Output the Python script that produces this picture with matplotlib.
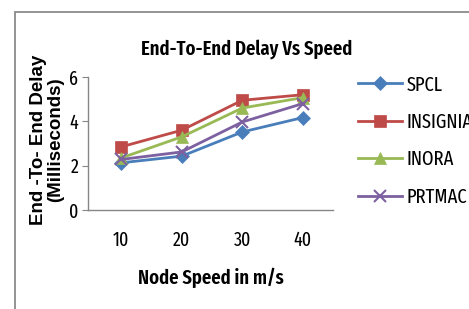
import matplotlib
matplotlib.use("Agg")
import matplotlib.pyplot as plt
from matplotlib.patches import Rectangle

speeds = ["10", "20", "30", "40"]
spcl = [2.13, 2.43, 3.52, 4.17]
insignia = [2.85, 3.6, 4.95, 5.2]
inora = [2.35, 3.3, 4.6, 5.07]
prtmac = [2.28, 2.62, 3.97, 4.8]
series_names = ["SPCL", "INSIGNIA", "INORA", "PRTMAC"]
yticks = [0, 2, 4, 6]

CF = ["Fira Sans Extra Condensed", "Carlito", "DejaVu Sans"]

fig = plt.figure(figsize=(4.69, 3.09), dpi=100)
fig.patch.set_facecolor("white")
ax = fig.add_axes([88/469, 1-210/309, (333-88)/469, (210-77)/309])

colors = ["#4A7EBB", "#BE4B48", "#98B954", "#7D60A0"]
markers = ["D", "s", "^", "x"]
msizes = [7.5, 8, 8, 8]
x = list(range(len(speeds)))
for vals, name, c, m, ms in zip([spcl, insignia, inora, prtmac], series_names, colors, markers, msizes):
    ax.plot(x, vals, color=c, marker=m, markersize=ms, linewidth=2.0, label=name,
            markeredgewidth=1.5 if m == "x" else 0.5)

ax.set_xlim(-0.55, 3.5)
ax.set_ylim(0, 6)
ax.set_xticks(x)
ax.set_xticklabels(speeds, family=CF, fontsize=14)
ax.set_yticks(yticks)
ax.set_yticklabels([str(v) for v in yticks], family=CF, fontsize=14)
for s in ["top", "right"]:
    ax.spines[s].set_visible(False)
for s in ["left", "bottom"]:
    ax.spines[s].set_color("#868686")
    ax.spines[s].set_linewidth(1.0)
ax.tick_params(axis="x", length=0, pad=15)
ax.tick_params(axis="y", length=4, color="#868686", pad=3)

ax.set_xlabel("Node Speed in m/s", family=CF, fontweight="semibold", fontsize=14.5, labelpad=12)
fig.text(47/469, 1-140/309, "End -To- End Delay\n(Milliseconds)", rotation=90,
         ha="center", va="center", family="Liberation Sans", fontweight="bold",
         fontsize=13.5, linespacing=1.0)
fig.text(247/469, 1-49/309, "End-To-End Delay Vs Speed", ha="center", va="center",
         family=CF, fontweight="semibold", fontsize=14.5)

fig.legend(loc="upper left", bbox_to_anchor=(358/469, 1-75/309), frameon=False,
           prop={"family": CF, "size": 14.5}, handlelength=2.2, labelspacing=0.88,
           handletextpad=0.2, borderaxespad=0, borderpad=0)

fig.patches.append(Rectangle((15/469, -0.1), 1.2, 1.1 - 12/309, transform=fig.transFigure,
                             fill=False, edgecolor="#8a8a8a", linewidth=1.3))

fig.savefig("out.png", dpi=100, facecolor="white")
